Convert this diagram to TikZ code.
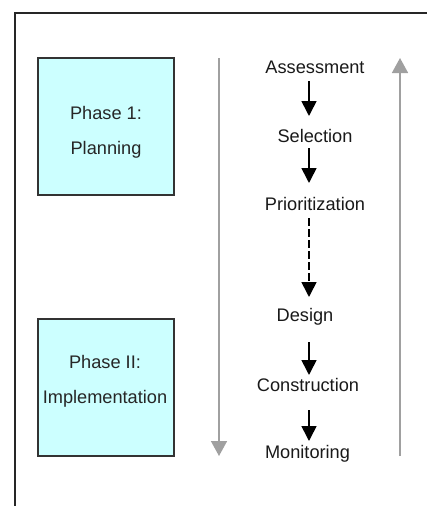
\documentclass[tikz,border=0pt]{standalone}
\usepackage{fontspec}
\setmainfont{Liberation Sans}
\usetikzlibrary{arrows.meta,calc}

\definecolor{phasefill}{HTML}{CCFFFF}
\definecolor{phaseedge}{HTML}{333333}
\definecolor{timegray}{HTML}{A0A0A0}

\tikzset{
  phasebox/.style={draw=phaseedge, line width=1.5pt, fill=phasefill, minimum width=136pt, minimum height=137pt, inner sep=0pt},
  phasetext/.style={font=\fontsize{18.2pt}{22pt}\selectfont, text=black!85, anchor=base, inner sep=0pt},
  steptext/.style={font=\fontsize{18.2pt}{22pt}\selectfont, text=black!90, anchor=base, inner sep=0pt},
  flow/.style={line width=1.6pt, -{Triangle[width=15pt,length=15pt]}},
  flowdash/.style={flow, dash pattern=on 8pt off 3pt},
  timeline/.style={draw=timegray, line width=1.6pt, -{Triangle[width=16pt,length=15pt]}},
}

\begin{document}
\begin{tikzpicture}[x=1pt,y=-1pt]
  \useasboundingbox (0,0) rectangle (427,506);

  % outer frame (top and left edges)
  \draw[line width=1.8pt, black!85] (15,506) -- (15,13) -- (427,13);

  % phase boxes
  \node[phasebox] (p1box) at (106,126.5) {};
  \node[phasebox] (p2box) at (106,387.5) {};
  \node[phasetext] (p1a) at (106,119) {Phase 1:};
  \node[phasetext] (p1b) at (106,154) {Planning};
  \node[phasetext] (p2a) at (105,368) {Phase II:};
  \node[phasetext] (p2b) at (105,403) {Implementation};

  % gray timelines
  \coordinate (dtop) at (219,58);
  \coordinate (dbot) at (219,456);
  \coordinate (utop) at (400,58);
  \coordinate (ubot) at (400,456);
  \draw[timeline] (dtop) -- (dbot);
  \draw[timeline] (ubot) -- (utop);

  % process steps
  \node[steptext] (assess) at (315,73) {Assessment};
  \node[steptext] (select) at (315,142) {Selection};
  \node[steptext] (prio)   at (315,210) {Prioritization};
  \node[steptext] (design) at (305,321) {Design};
  \node[steptext] (constr) at (308,391) {Construction};
  \node[steptext] (monit)  at (307.5,458) {Monitoring};

  % step arrows
  \draw[flow] ($(assess.base)+(-6,8)$) -- ($(select.base)+(-6,-26)$);
  \draw[flow] ($(select.base)+(-6,6)$) -- ($(prio.base)+(-6,-27)$);
  \draw[flowdash] ($(prio.base)+(-6,8)$) -- ($(design.base)+(4,-24)$);
  \draw[flow] ($(design.base)+(4,21)$) -- ($(constr.base)+(1,-16)$);
  \draw[flow] ($(constr.base)+(1,19)$) -- ($(monit.base)+(1.5,-17)$);
\end{tikzpicture}
\end{document}
